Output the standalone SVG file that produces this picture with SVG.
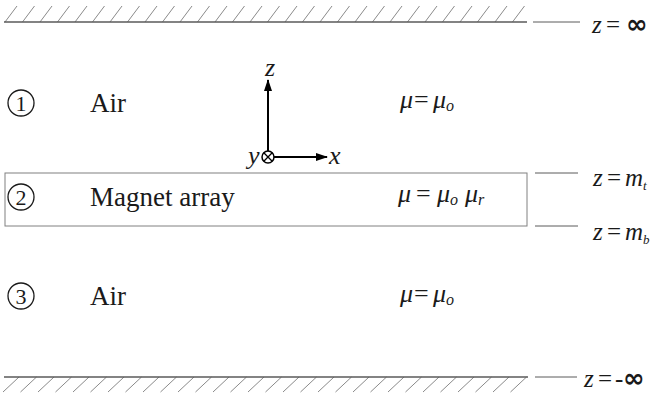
<svg xmlns="http://www.w3.org/2000/svg" width="651" height="397" viewBox="0 0 651 397">
<defs>
<style>
.t{font-family:"Liberation Serif","Times New Roman",serif;fill:#1a1a1a;}
.i{font-style:italic;}
.lbl{font-size:27px;}
.eq{font-size:26px;}
.zl{font-size:25px;}
.num{font-size:22px;}
.hatch{stroke:#8a8a8a;stroke-width:1;fill:none;}
.base{stroke:#5a5a5a;stroke-width:1.3;fill:none;}
.tick{stroke:#5a5a5a;stroke-width:1;fill:none;}
.circ{stroke:#1a1a1a;stroke-width:1.3;fill:none;}
.axis{stroke:#000;stroke-width:2;fill:none;}
.inf{font-family:"DejaVu Sans",sans-serif;font-weight:bold;font-size:26px;}
</style>
<marker id="ah" viewBox="0 0 12 8" refX="11" refY="4" markerWidth="12" markerHeight="8" markerUnits="userSpaceOnUse" orient="auto">
<path d="M0,0 L12,4 L0,8 z" fill="#000"/>
</marker>
</defs>
<rect width="651" height="397" fill="#fff"/>

<g id="boundary-top">
<path class="hatch" d="M5,22 l12,-16 M22.5,22 l12,-16 M40,22 l12,-16 M57.5,22 l12,-16 M75,22 l12,-16 M92.5,22 l12,-16 M110,22 l12,-16 M127.5,22 l12,-16 M145,22 l12,-16 M162.5,22 l12,-16 M180,22 l12,-16 M197.5,22 l12,-16 M215,22 l12,-16 M232.5,22 l12,-16 M250,22 l12,-16 M267.5,22 l12,-16 M285,22 l12,-16 M302.5,22 l12,-16 M320,22 l12,-16 M337.5,22 l12,-16 M355,22 l12,-16 M372.5,22 l12,-16 M390,22 l12,-16 M407.5,22 l12,-16 M425,22 l12,-16 M442.5,22 l12,-16 M460,22 l12,-16 M477.5,22 l12,-16 M495,22 l12,-16 M512.5,22 l12,-16"/>
<line class="base" x1="4" y1="22" x2="527" y2="22"/>
<text class="t zl" y="33"><tspan x="592" class="i">z</tspan><tspan x="606">=</tspan><tspan x="626" class="inf">∞</tspan></text>
</g>

<g id="region-1">
<circle class="circ" cx="21" cy="103" r="13"/>
<text class="t num" x="21" y="110.5" text-anchor="middle">1</text>
<text class="t lbl" x="90" y="112">Air</text>
<text class="t eq" y="108"><tspan x="400" class="i">μ</tspan><tspan x="414">=</tspan><tspan x="433" class="i">μ</tspan><tspan class="i" font-size="16" dy="3">o</tspan></text>
</g>

<g id="axes">
<line class="axis" x1="268" y1="151" x2="268" y2="80" marker-end="url(#ah)"/>
<line class="axis" x1="274" y1="157" x2="327" y2="157" marker-end="url(#ah)"/>
<circle cx="268" cy="157" r="6" fill="#fff" stroke="#000" stroke-width="1.5"/>
<path d="M263.8,152.8 L272.2,161.2 M272.2,152.8 L263.8,161.2" stroke="#000" stroke-width="1.3"/>
<text class="t eq i" x="270" y="76" text-anchor="middle">z</text>
<text class="t eq i" x="329" y="164">x</text>
<text class="t eq i" x="248" y="164">y</text>
</g>

<g id="region-2">
<rect x="5" y="173" width="522" height="53" fill="none" stroke="#808080" stroke-width="1"/>
<circle class="circ" cx="21" cy="197" r="13"/>
<text class="t num" x="21" y="204.5" text-anchor="middle">2</text>
<text class="t lbl" x="90" y="206">Magnet array</text>
<text class="t eq" y="202"><tspan x="398" class="i">μ</tspan><tspan x="416">=</tspan><tspan x="437" class="i">μ</tspan><tspan class="i" font-size="16" dy="3">o</tspan><tspan x="465" dy="-3" class="i">μ</tspan><tspan class="i" font-size="16" dy="3">r</tspan></text>
</g>

<g id="region-3">
<circle class="circ" cx="21" cy="296" r="13"/>
<text class="t num" x="21" y="303.5" text-anchor="middle">3</text>
<text class="t lbl" x="90" y="305">Air</text>
<text class="t eq" y="302"><tspan x="400" class="i">μ</tspan><tspan x="414">=</tspan><tspan x="433" class="i">μ</tspan><tspan class="i" font-size="16" dy="3">o</tspan></text>
</g>

<g id="boundary-bottom">
<path class="hatch" d="M3,392 l16,-15 M20.5,392 l16,-15 M38,392 l16,-15 M55.5,392 l16,-15 M73,392 l16,-15 M90.5,392 l16,-15 M108,392 l16,-15 M125.5,392 l16,-15 M143,392 l16,-15 M160.5,392 l16,-15 M178,392 l16,-15 M195.5,392 l16,-15 M213,392 l16,-15 M230.5,392 l16,-15 M248,392 l16,-15 M265.5,392 l16,-15 M283,392 l16,-15 M300.5,392 l16,-15 M318,392 l16,-15 M335.5,392 l16,-15 M353,392 l16,-15 M370.5,392 l16,-15 M388,392 l16,-15 M405.5,392 l16,-15 M423,392 l16,-15 M440.5,392 l16,-15 M458,392 l16,-15 M475.5,392 l16,-15 M493,392 l16,-15 M510.5,392 l16,-15"/>
<line class="base" x1="4" y1="377" x2="528" y2="377"/>
<text class="t zl" y="387"><tspan x="584" class="i">z</tspan><tspan x="598">=</tspan><tspan x="615">-</tspan><tspan x="623" class="inf">∞</tspan></text>
</g>

<g id="connectors">
<line class="tick" x1="533" y1="22" x2="580" y2="22"/>
<line class="tick" x1="535" y1="173" x2="578" y2="173"/>
<line class="tick" x1="535" y1="226" x2="578" y2="226"/>
<line class="tick" x1="535" y1="377" x2="577" y2="377"/>
</g>

<g id="labels-z">
<text class="t zl" y="186"><tspan x="593" class="i">z</tspan><tspan x="607">=</tspan><tspan x="625" class="i">m</tspan><tspan class="i" font-size="13" dy="4">t</tspan></text>
<text class="t zl" y="240"><tspan x="593" class="i">z</tspan><tspan x="607">=</tspan><tspan x="625" class="i">m</tspan><tspan class="i" font-size="13" dy="4">b</tspan></text>
</g>
</svg>
